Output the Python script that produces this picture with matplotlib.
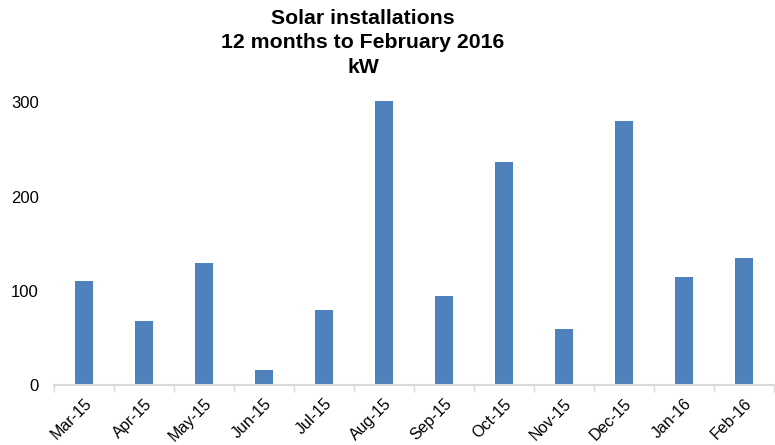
import matplotlib.pyplot as plt
import numpy as np

plt.rcParams["font.family"] = ["Liberation Sans", "DejaVu Sans"]

months = ["Mar-15", "Apr-15", "May-15", "Jun-15", "Jul-15", "Aug-15",
          "Sep-15", "Oct-15", "Nov-15", "Dec-15", "Jan-16", "Feb-16"]
installed_kw = [110, 68, 130, 16, 80, 302, 94, 237, 59, 280, 115, 135]
y_ticks = [0, 100, 200, 300]

BAR_COLOR = "#4F81BD"
AXIS_COLOR = "#D9D9D9"

fig = plt.figure(figsize=(7.75, 4.45), dpi=100)
ax = fig.add_axes([54 / 775, 60 / 445, 720 / 775, 292 / 445])

x = np.arange(len(months))
ax.bar(x, installed_kw, width=0.31, color=BAR_COLOR)

ax.set_xlim(-0.5, len(months) - 0.5)
ax.set_ylim(0, 310)

# category ticks sit on the boundaries, labels in the middle
ax.set_xticks(np.arange(len(months) + 1) - 0.5)
ax.set_xticklabels([])
ax.set_xticks(x, minor=True)
ax.set_xticklabels(months, minor=True, rotation=45, ha="right",
                   rotation_mode="anchor", fontsize=11.5)
ax.tick_params(axis="x", which="major", length=5, color=AXIS_COLOR, width=1)
ax.tick_params(axis="x", which="minor", length=0, pad=8)

ax.set_yticks(y_ticks)
ax.tick_params(axis="y", length=0, pad=11, labelsize=12)

for side in ["top", "right", "left"]:
    ax.spines[side].set_visible(False)
ax.spines["bottom"].set_color(AXIS_COLOR)
ax.spines["bottom"].set_linewidth(1.5)

fig.text(363 / 775, 1 - 43 / 445,
         "Solar installations\n12 months to February 2016\nkW",
         ha="center", va="center", fontsize=15.3, fontweight="bold",
         linespacing=1.35)

fig.savefig("out.png", dpi=100)
